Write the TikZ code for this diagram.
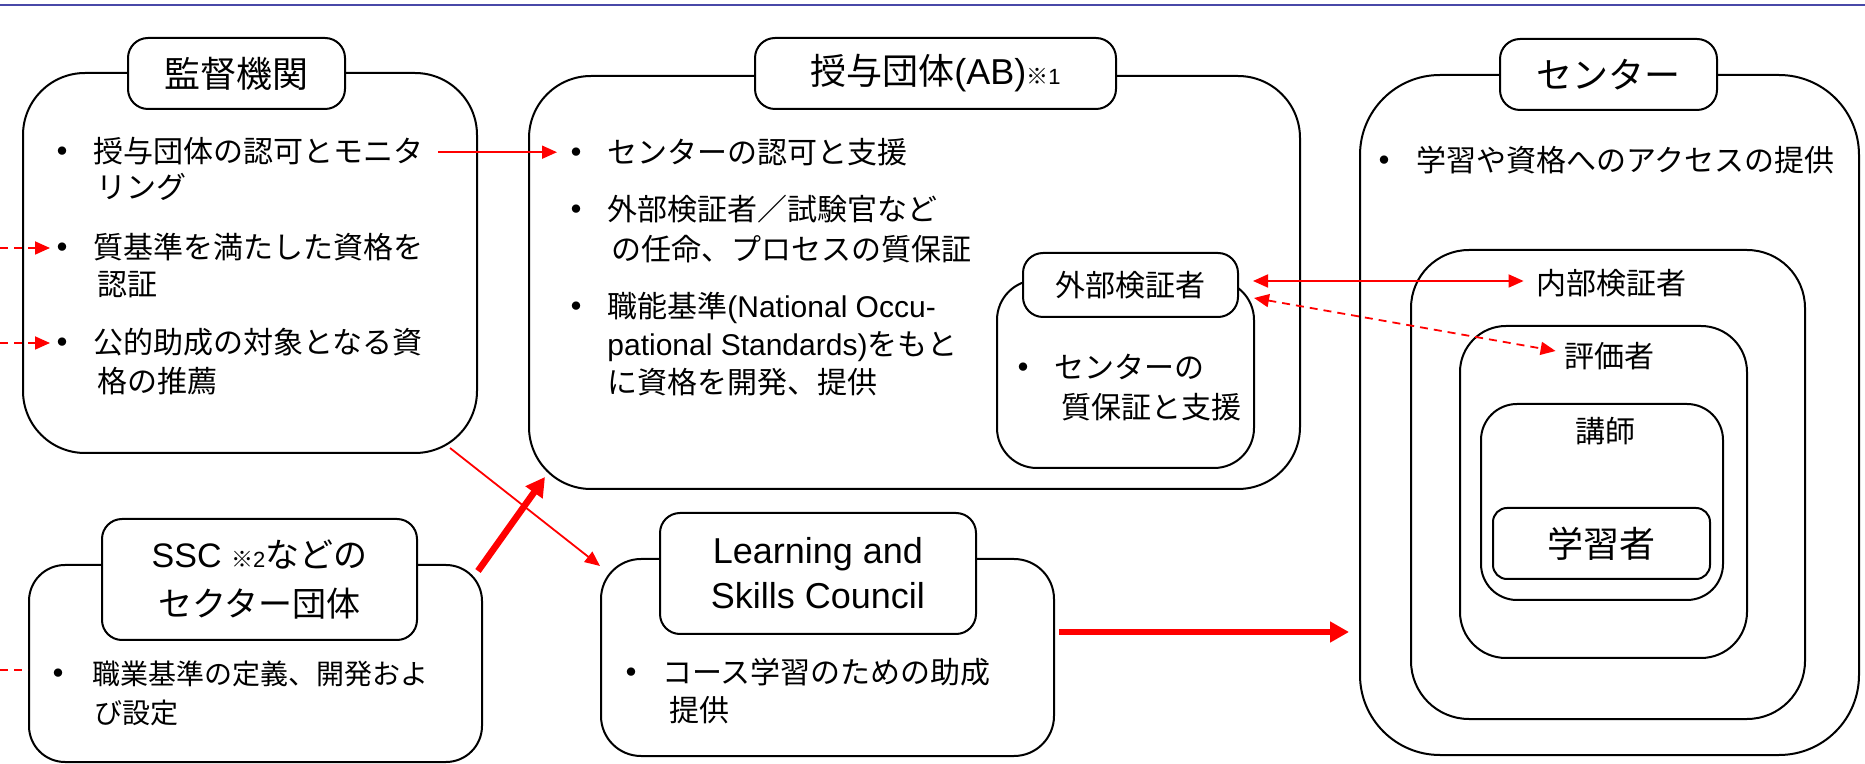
\documentclass[tikz,border=0pt]{standalone}
\usepackage{fontspec}
\setmainfont{Liberation Sans}
\newfontfamily\jp{Noto Sans CJK JP}
\usetikzlibrary{arrows.meta,fit,calc}
\definecolor{topblue}{RGB}{72,72,168}
\tikzset{
  bx/.style={draw=black, line width=1pt, fill=white, inner sep=0pt},
  mainbox/.style={bx, rounded corners=31pt},
  ttlbox/.style={bx, rounded corners=10pt},
  ttltx/.style={anchor=center, inner sep=0pt, align=center, font=\jp\fontsize{18}{22}\selectfont},
  tx/.style={anchor=base west, inner sep=0pt, font=\jp\fontsize{15}{18}\selectfont},
  txs/.style={tx, font=\jp\fontsize{14}{17}\selectfont},
  bl/.style={anchor=base, inner sep=0pt, font=\jp\bfseries\fontsize{15}{18}\selectfont},
  lbl/.style={anchor=center, inner sep=0pt, font=\jp\fontsize{15}{18}\selectfont},
  tipthin/.tip={Triangle[length=7.5pt,width=6.5pt]},
  rarr/.style={draw=red, line width=0.9pt, -tipthin},
  rarrs/.style={draw=red, line width=0.9pt, tipthin-tipthin},
  rdash/.style={dash pattern=on 4pt off 3pt},
  rthick/.style={draw=red, line width=3.3pt, -{Triangle[length=9.5pt,width=10pt]}}
}
\begin{document}
\begin{tikzpicture}[x=0.5pt,y=-0.5pt]
\useasboundingbox (0,0) rectangle (1865,764);
\draw[topblue, line width=1pt] (0,5) -- (1865,5);

% ---------- 監督機関 ----------
\node[mainbox, fit={(23,73) (477,453)}] (kanshi) {};
\node[ttlbox, fit={(128,38) (345,109)}] (kanshiT) {};
\node[ttltx] (kanshiL) at (kanshiT.center) {監督機関};
\node[bl] (k1b) at (62,163) {・};
\node[tx] (k1a) at (93,163) {授与団体の認可とモニタ};
\node[tx] (k1c) at (96,199) {リング};
\node[bl] (k2b) at (62,259) {・};
\node[tx] (k2a) at (93,259) {質基準を満たした資格を};
\node[tx] (k2c) at (97,296) {認証};
\node[bl] (k3b) at (62,354) {・};
\node[tx] (k3a) at (93,354) {公的助成の対象となる資};
\node[tx] (k3c) at (97,393) {格の推薦};

% ---------- 授与団体 ----------
\node[mainbox, fit={(529,76) (1300,489)}] (ab) {};
\node[ttlbox, fit={(755,38) (1116,109)}] (abT) {};
\node[ttltx] (abL) at (abT.center) {授与団体{\rmfamily(AB)}{\fontsize{11}{13}\selectfont ※{\rmfamily 1}}};
\node[bl] (a1b) at (576,164) {・};
\node[tx] (a1a) at (607,164) {センターの認可と支援};
\node[bl] (a2b) at (576,221) {・};
\node[tx] (a2a) at (607,221) {外部検証者／試験官など};
\node[tx] (a2c) at (611,261) {の任命、プロセスの質保証};
\node[bl] (a3b) at (576,318) {・};
\node[tx] (a3a) at (607,318) {職能基準{\rmfamily(National Occu-}};
\node[tx] (a3c) at (607,356) {{\rmfamily pational Standards)}をもと};
\node[tx] (a3d) at (607,394) {に資格を開発、提供};

% 外部検証者
\node[bx, rounded corners=20pt, fit={(997,280) (1254,468)}] (gaibu) {};
\node[ttlbox, fit={(1023,253) (1238,317)}] (gaibuT) {};
\node[lbl] (gaibuL) at (gaibuT.center) {外部検証者};
\node[bl] (g1b) at (1023,379) {・};
\node[tx] (g1a) at (1054,379) {センターの};
\node[tx] (g1c) at (1061,419) {質保証と支援};

% ---------- センター ----------
\node[bx, rounded corners=40pt, fit={(1360,75) (1859,755)}] (ctr) {};
\node[ttlbox, fit={(1500,39) (1717,110)}] (ctrT) {};
\node[ttltx] (ctrL) at (ctrT.center) {センター};
\node[bl] (c1b) at (1384,172) {・};
\node[tx] (c1a) at (1416,172) {学習や資格へのアクセスの提供};
\node[bx, rounded corners=29pt, fit={(1411,250) (1805,719)}] (naibu) {};
\node[lbl] (naibuL) at (1611,283) {内部検証者};
\node[bx, rounded corners=23pt, fit={(1460,326) (1747,658)}] (hyoka) {};
\node[lbl] (hyokaL) at (1609,356) {評価者};
\node[bx, rounded corners=18pt, fit={(1481,404) (1723,600)}] (koshi) {};
\node[lbl] (koshiL) at (1605,431) {講師};
\node[bx, rounded corners=7pt, fit={(1493,508) (1710,579)}] (gaku) {};
\node[ttltx] (gakuL) at (gaku.center) {学習者};

% ---------- SSC ----------
\node[bx, rounded corners=18pt, fit={(29,565) (482,762)}] (ssc) {};
\node[ttlbox, fit={(102,519) (417,640)}] (sscT) {};
\node[ttltx, font=\jp\fontsize{17}{24.5}\selectfont] (sscL) at (sscT.center) {{\rmfamily SSC }{\fontsize{11}{13}\selectfont ※{\rmfamily 2}}などの\\セクター団体};
\node[bl] (s1b) at (58,684) {・};
\node[txs] (s1a) at (92,684) {職業基準の定義、開発およ};
\node[txs] (s1c) at (94,723) {び設定};

% ---------- LSC ----------
\node[bx, rounded corners=20pt, fit={(601,559) (1054,756)}] (lsc) {};
\node[ttlbox, fit={(660,513) (976,634)}] (lscT) {};
\node[ttltx, font=\fontsize{18}{22.5}\selectfont] (lscL) at (lscT.center) {Learning and\\Skills Council};
\node[bl] (l1b) at (631,683) {・};
\node[tx] (l1a) at (662,683) {コース学習のための助成};
\node[tx] (l1c) at (669,721) {提供};

% ---------- connectors ----------
\coordinate (in1) at (0,248);
\coordinate (in2) at (0,343);
\coordinate (in3) at (0,670);
\draw[rarr, rdash] (in1) -- ($(k2b.center |- in1)+(-12,0)$);
\draw[rarr, rdash] (in2) -- ($(k3b.center |- in2)+(-12,0)$);
\draw[draw=red, line width=0.9pt, rdash] (in3) -- (ssc.west |- in3);

\draw[rarr] ($(k1a.east |- k1b.center)+(14,-3)$) -- ($(a1b.center |- k1b.center)+(-19,-3)$);
\draw[rarr] ($(kanshi.south east)+(-28,-6)$) -- ($(lsc.north west)+(0,8)$);
\draw[rthick] ($(ssc.north east)+(-5,7)$) -- ($(ab.south west)+(17,-13)$);
\draw[rthick] ($(lsc.north east)+(4,74)$) -- ($(ctr.north west)+(-10,558)$);

\draw[rarrs] ($(gaibuT.east)+(14,-4)$) -- ($(naibuL.west |- gaibuT.east)+(-12,-4)$);
\draw[rarrs, rdash] ($(gaibuT.east)+(15,13)$) -- ($(hyokaL.west)+(-8,-5)$);
\end{tikzpicture}
\end{document}
